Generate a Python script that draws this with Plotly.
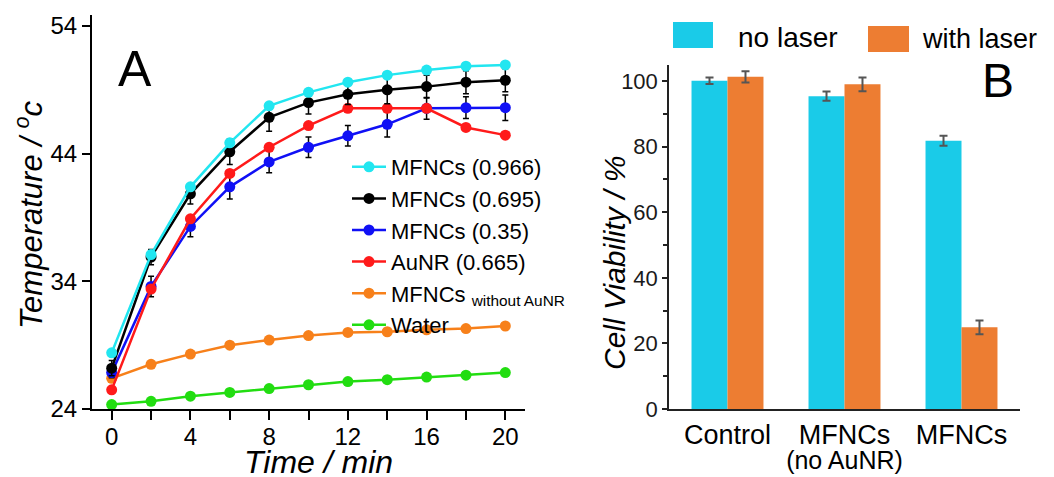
import plotly.graph_objects as go

W, H = 1054, 477
FONT = "Liberation Sans, Arial, sans-serif"

# ---------------- Panel A data ----------------
time_min = [0, 2, 4, 6, 8, 10, 12, 14, 16, 18, 20]
mfncs_0966 = [28.4, 36.1, 41.4, 44.85, 47.75, 48.8, 49.6, 50.15, 50.55, 50.85, 50.95]
mfncs_0695 = [27.2, 35.9, 40.85, 44.15, 46.85, 48.0, 48.65, 49.0, 49.25, 49.6, 49.75]
mfncs_0695_err = [0.6, 0.6, 0.8, 1.0, 1.1, 0.9, 0.8, 1.1, 0.9, 0.9, 0.9]
mfncs_035 = [26.85, 33.6, 38.3, 41.4, 43.35, 44.5, 45.4, 46.3, 47.55, 47.6, 47.6]
mfncs_035_err = [0.4, 0.8, 0.8, 0.95, 0.85, 0.8, 0.8, 1.0, 0.85, 0.85, 1.0]
aunr_0665 = [25.5, 33.4, 38.9, 42.45, 44.5, 46.2, 47.55, 47.55, 47.55, 46.05, 45.45]
mfncs_no_aunr = [26.4, 27.5, 28.3, 29.0, 29.4, 29.75, 30.0, 30.05, 30.2, 30.3, 30.5]
water = [24.35, 24.6, 25.0, 25.3, 25.6, 25.9, 26.15, 26.3, 26.5, 26.65, 26.85]

# ---------------- Panel B data ----------------
groups = [
    "<span style='font-size:27px'>Control</span>",
    "<span style='font-size:27px'>MFNCs</span><br><span style='font-size:25px'>(no AuNR)</span>",
    "<span style='font-size:27px'>MFNCs</span>",
]
no_laser = [100.1, 95.4, 81.8]
no_laser_err = [1.0, 1.4, 1.5]
with_laser = [101.3, 99.0, 24.9]
with_laser_err = [1.7, 2.1, 2.1]


def px_x(p):
    return p / W


def px_y(p):
    return 1 - p / H


fig = go.Figure()

# draw order: bottom first; legend order via legendrank
series = [
    ("Water", water, None, "#22DD11", 6),
    ("MFNCs <sub>without AuNR</sub>", mfncs_no_aunr, None, "#F7801A", 5),
    ("MFNCs (0.35)", mfncs_035, mfncs_035_err, "#1010F5", 3),
    ("AuNR (0.665)", aunr_0665, None, "#FF1A1A", 4),
    ("MFNCs (0.695)", mfncs_0695, mfncs_0695_err, "#000000", 2),
    ("MFNCs (0.966)", mfncs_0966, None, "#22E6F0", 1),
]
for name, ys, err, color, rank in series:
    kw = {}
    if err is not None:
        kw["error_y"] = dict(type="data", array=err, visible=True, color="#000000",
                             thickness=1.5, width=3)
    fig.add_trace(go.Scatter(
        x=time_min, y=ys, name=name, mode="lines+markers",
        line=dict(color=color, width=2.5),
        marker=dict(color=color, size=11),
        legendrank=rank, cliponaxis=False,
        xaxis="x", yaxis="y", **kw))

fig.add_trace(go.Bar(
    x=groups, y=no_laser, name="no laser", marker=dict(color="#1ACBE8", line=dict(width=0)),
    error_y=dict(type="data", array=no_laser_err, color="#555555", thickness=2, width=4),
    xaxis="x2", yaxis="y2", showlegend=False))
fig.add_trace(go.Bar(
    x=groups, y=with_laser, name="with laser", marker=dict(color="#ED7D32", line=dict(width=0)),
    error_y=dict(type="data", array=with_laser_err, color="#555555", thickness=2, width=4),
    xaxis="x2", yaxis="y2", showlegend=False))

tickfont = dict(family=FONT, size=24, color="#000000")

fig.update_layout(
    width=W, height=H,
    margin=dict(l=0, r=0, t=0, b=0, autoexpand=False),
    paper_bgcolor="white", plot_bgcolor="white",
    font=dict(family=FONT, color="#000000"),
    barmode="group", bargap=0.385, bargroupgap=0,
    showlegend=True,
    legend=dict(x=px_x(347), y=px_y(146), xanchor="left", yanchor="top",
                font=dict(family=FONT, size=22, color="#000000"),
                bgcolor="rgba(0,0,0,0)", tracegroupgap=0, itemwidth=34),
    xaxis=dict(domain=[px_x(92), px_x(525)], range=[-1, 21], automargin=False,
               showline=True, linecolor="#000000", linewidth=2,
               ticks="outside", ticklen=9, tickwidth=2, tickcolor="#000000",
               tick0=0, dtick=4, ticklabelstandoff=-4,
               minor=dict(dtick=2, tick0=0, ticks="outside", ticklen=9, tickwidth=2, tickcolor="#000000"),
               showgrid=False, zeroline=False, tickfont=tickfont, anchor="y"),
    yaxis=dict(domain=[px_y(409), px_y(15)], range=[24, 54.86], automargin=False,
               showline=True, linecolor="#000000", linewidth=2,
               ticks="outside", ticklen=8, tickwidth=2, tickcolor="#000000",
               tickvals=[24, 34, 44, 54],
               showgrid=False, zeroline=False, tickfont=tickfont, anchor="x"),
    xaxis2=dict(domain=[px_x(669), px_x(1020)], type="category", range=[-0.5, 2.5], automargin=False,
                showline=True, linecolor="#222222", linewidth=2,
                ticks="outside", ticklen=10, tickcolor="rgba(0,0,0,0)",
                showgrid=False, zeroline=False,
                tickfont=dict(family=FONT, size=19, color="#000000"), anchor="y2"),
    yaxis2=dict(domain=[px_y(409), px_y(65)], range=[0, 104.9], automargin=False,
                showline=True, linecolor="#222222", linewidth=1.5,
                ticks="outside", ticklen=5, tickwidth=1.5, tickcolor="#222222",
                tick0=0, dtick=20,
                minor=dict(dtick=10, tick0=0, ticks="outside", ticklen=4, tickwidth=1.5, tickcolor="#222222"),
                showgrid=False, zeroline=False,
                tickfont=dict(family=FONT, size=22, color="#1a1a1a"), anchor="x2"),
)

annotations = [
    dict(text="<i>Temperature / <sup>o</sup>c</i>", x=px_x(29), y=px_y(215), textangle=-90,
         font=dict(family=FONT, size=31, color="#000000")),
    dict(text="<i>Time / min</i>", x=px_x(318), y=px_y(462),
         font=dict(family=FONT, size=32, color="#000000")),
    dict(text="<i>Cell Viability / %</i>", x=px_x(614), y=px_y(263), textangle=-90,
         font=dict(family=FONT, size=30, color="#000000")),
    dict(text="A", x=px_x(135), y=px_y(69), font=dict(family=FONT, size=50, color="#000000")),
    dict(text="B", x=px_x(998), y=px_y(80), font=dict(family=FONT, size=48, color="#000000")),
    dict(text="no laser", x=px_x(736), y=px_y(37), xanchor="left",
         font=dict(family=FONT, size=28, color="#000000")),
    dict(text="with laser", x=px_x(920), y=px_y(39), xanchor="left",
         font=dict(family=FONT, size=27, color="#000000")),
]
for a in annotations:
    a.update(xref="paper", yref="paper", showarrow=False)
    a.setdefault("xanchor", "center")
    a.setdefault("yanchor", "middle")
fig.update_layout(annotations=annotations)

fig.update_layout(shapes=[
    dict(type="rect", xref="paper", yref="paper", x0=px_x(673), x1=px_x(713), y0=px_y(48), y1=px_y(22),
         fillcolor="#1ACBE8", line=dict(width=0)),
    dict(type="rect", xref="paper", yref="paper", x0=px_x(868), x1=px_x(909), y0=px_y(52), y1=px_y(26),
         fillcolor="#ED7D32", line=dict(width=0)),
])

fig.write_html("out.html")
